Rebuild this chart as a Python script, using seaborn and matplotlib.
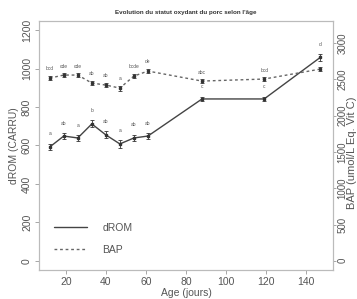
import numpy as np
import pandas as pd
import seaborn as sns
import matplotlib
matplotlib.use("Agg")
import matplotlib.pyplot as plt

sns.set_theme(style="white")
plt.rcParams['font.family'] = ['Liberation Sans', 'DejaVu Sans']

age = [12, 19, 26, 33, 40, 47, 54, 61, 88, 119, 147]
drom = [592, 649, 639, 712, 655, 608, 639, 649, 842, 842, 1058]
drom_err = [18, 16, 16, 18, 18, 20, 18, 16, 12, 12, 18]
drom_lettres = ["a", "ab", "a", "b", "ab", "a", "ab", "ab", "c", "c", "d"]
bap = [2518, 2560, 2560, 2450, 2422, 2380, 2546, 2615, 2477, 2505, 2642]
bap_err = [30, 25, 25, 30, 30, 35, 30, 30, 25, 25, 25]
bap_lettres = ["bcd", "cde", "cde", "ab", "ab", "a", "bcde", "de", "abc", "bcd", ""]

df = pd.DataFrame({"age": age, "dROM": drom, "BAP": bap})

gris = "#555555"
fig = plt.figure(figsize=(3.57, 2.99), dpi=100)
ax = fig.add_axes([0.109, 0.097, 0.824, 0.833])
ax2 = ax.twinx()

sns.lineplot(data=df, x="age", y="dROM", ax=ax, color="#444444", lw=1.0,
             legend=False)
sns.lineplot(data=df, x="age", y="BAP", ax=ax2, color="#666666", lw=1.0,
             linestyle=(0, (2, 2)), legend=False)
ax.errorbar(age, drom, yerr=drom_err, fmt="s", ms=2, color="#333333",
            capsize=1.2, elinewidth=0.6, capthick=0.6)
ax2.errorbar(age, bap, yerr=bap_err, fmt="s", ms=2, color="#333333",
             capsize=1.2, elinewidth=0.6, capthick=0.6)

for x, y, e, t in zip(age, drom, drom_err, drom_lettres):
    ax.annotate(t, (x, y + e), xytext=(0, 6), textcoords="offset points",
                ha="center", fontsize=3.5, color=gris)
for x, y, e, t in zip(age, bap, bap_err, bap_lettres):
    ax2.annotate(t, (x, y + e), xytext=(0, 4), textcoords="offset points",
                 ha="center", fontsize=3.5, color=gris)

ax.set_xlim(6.6, 153.4)
ax.set_ylim(-48, 1248)
ax2.set_ylim(-127, 3306)
ax.set_xticks(range(20, 141, 20))
ax.set_yticks(range(0, 1201, 200))
ax2.set_yticks(range(0, 3001, 500))

for a in (ax, ax2):
    for s in a.spines.values():
        s.set_color("#bbbbbb")
        s.set_linewidth(0.8)
    a.tick_params(colors=gris, labelsize=7.5, length=3, width=0.6,
                  color="#999999", pad=2)
    a.grid(False)
ax.tick_params(axis="x", bottom=True)
ax.tick_params(axis="y", left=True)
ax2.tick_params(axis="y", right=True, labelsize=7, length=2.5, pad=0.5)
for lab in ax.get_yticklabels():
    lab.set_rotation(90)
    lab.set_va("center")
for lab in ax2.get_yticklabels():
    lab.set_rotation(90)
    lab.set_va("center")

ax.set_xlabel("Age (jours)", fontsize=7.5, color=gris, labelpad=1)
ax.set_ylabel("dROM (CARRU)", fontsize=7.5, color=gris, labelpad=2)
ax2.set_ylabel("BAP (umol/L Eq. Vit C)", fontsize=8, color=gris,
               rotation=90, va="center")
ax2.yaxis.set_label_coords(1.066, 0.47)
ax.set_title("Evolution du statut oxydant du porc selon l'âge", fontsize=4.5,
             color="#333333", fontweight="bold", pad=5)

h1 = plt.Line2D([], [], color="#444444", lw=1.0)
h2 = plt.Line2D([], [], color="#666666", lw=1.0, linestyle=(0, (2, 2)))
ax.legend([h1, h2], ["dROM", "BAP"], loc="lower left",
          bbox_to_anchor=(0.05, 0.06), frameon=False, fontsize=7.5,
          handlelength=3.2, handletextpad=1.5, labelspacing=1.2,
          borderpad=0, borderaxespad=0, labelcolor=gris)

fig.savefig("out.png", dpi=100)
